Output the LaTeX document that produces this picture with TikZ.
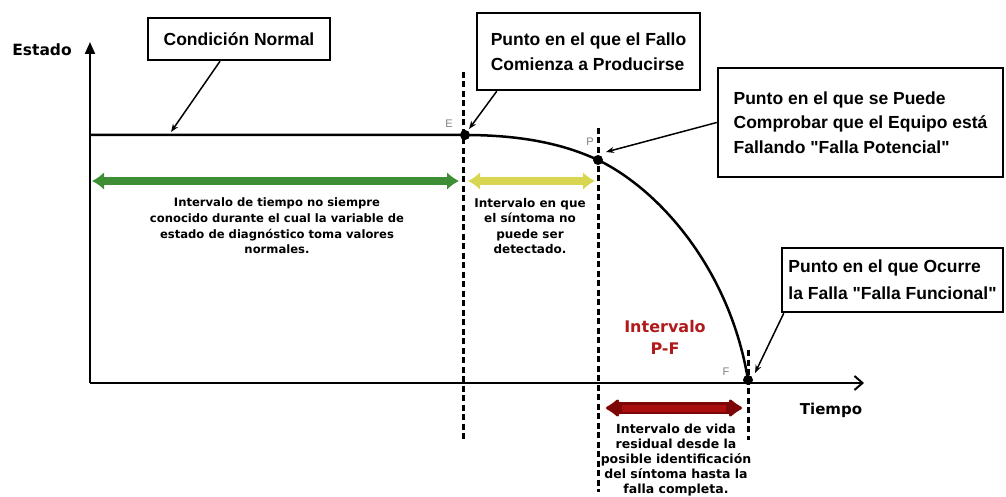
\documentclass[tikz,border=0pt]{standalone}
\usepackage{fontspec}
\setmainfont{Liberation Sans}
\newfontfamily\dejavu{DejaVu Sans}
\usetikzlibrary{arrows.meta}
\definecolor{grn}{HTML}{3E8E35}
\definecolor{ylw}{HTML}{D8D650}
\definecolor{dred}{HTML}{7E0606}
\definecolor{mred}{HTML}{A80E0E}
\definecolor{ired}{HTML}{B01A1A}
\begin{document}
\begin{tikzpicture}[x=1pt,y=-1pt,
  box/.style={draw,line width=2.5pt,fill=white,font=\fontsize{17.5}{25.5}\selectfont\bfseries,inner sep=0pt},
  conn/.style={line width=1.5pt,-{Stealth[length=8pt,width=6pt]}},
  vdash/.style={line width=3pt,dash pattern=on 6pt off 3.5pt},
  small/.style={font=\dejavu\bfseries\fontsize{12}{15.5}\selectfont,align=center},
  dot/.style={circle,fill=black,inner sep=0pt,minimum size=10pt},
  lab/.style={text=gray,font=\fontsize{11}{13}\selectfont},
  axlab/.style={font=\dejavu\bfseries\fontsize{15.5}{17}\selectfont}]
\useasboundingbox (0,0) rectangle (1006,497);
% axes
\coordinate (O) at (90,383);
\coordinate (Ytop) at (90,42);
\coordinate (Xend) at (864,383);
\draw[line width=2pt,-{Triangle[length=12pt,width=10pt]}] (O) -- (Ytop);
\draw[line width=2pt,-{Straight Barb[length=8pt,width=14pt]}] (O) -- (Xend);
\node[axlab] (estado) at (42,50) {Estado};
\node[axlab,font=\dejavu\bfseries\fontsize{15}{17}\selectfont] (tiempo) at (831,410) {Tiempo};
% key points
\coordinate (S) at (90,135);
\coordinate (E) at (465,135);
\coordinate (P) at (598,160);
\coordinate (F) at (748,380);
% dashed verticals
\coordinate (Et) at (463,72);  \coordinate (Eb) at (463,440);
\coordinate (Pt) at (598,128); \coordinate (Pb) at (598,492);
\coordinate (Ft) at (748,350); \coordinate (Fb) at (748,440);
\draw[vdash] (Et) -- (Eb);
\draw[vdash] (Pt) -- (Pb);
\draw[vdash] (Ft) -- (Fb);
% curve
\draw[line width=2.5pt] (S) -- (E) .. controls (530,135) and (570,147) .. (P)
   .. controls (660,190) and (730,270) .. (F);
\node[dot] (dE) at (E) {};
\node[dot] (dP) at (P) {};
\node[dot] (dF) at (F) {};
\node[lab] (lE) at (449,124) {E};
\node[lab] (lP) at (590,142) {P};
\node[lab] (lF) at (726,372) {F};
% boxes
\node[box,minimum width=182pt,minimum height=42pt] (b1) at (239,39) {Condición Normal};
\node[box,minimum width=223pt,minimum height=77pt,align=left] (b2) at (588.5,51.5) {Punto en el que el Fallo\\Comienza a Producirse};
\node[box,minimum width=285pt,minimum height=109pt,align=left,font=\fontsize{17.5}{24.5}\selectfont\bfseries] (b3) at (860.5,122.5) {Punto en el que se Puede\\Comprobar que el Equipo está\\Fallando \textquotedbl Falla Potencial\textquotedbl};
\node[box,minimum width=221pt,minimum height=64pt,align=left,font=\fontsize{17.5}{27}\selectfont\bfseries] (b4) at (892.5,280) {Punto en el que Ocurre\\la Falla \textquotedbl Falla Funcional\textquotedbl};
% connectors
\coordinate (c1) at (171,132);
\coordinate (c2) at (469,129);
\coordinate (c3) at (606,152);
\coordinate (c4) at (755,373);
\draw[conn] ([xshift=-19pt]b1.south) -- (c1);
\draw[conn] ([xshift=21pt]b2.south west) -- (c2);
\draw[conn] (b3.west) -- (c3);
\draw[conn] ([xshift=3pt]b4.south west) -- (c4);
% intervals
\coordinate (g1) at (92,181);  \coordinate (g2) at (459,181);
\coordinate (y1) at (468,181); \coordinate (y2) at (595,181);
\coordinate (r1) at (606,408); \coordinate (r2) at (742,408);
\draw[grn,line width=8pt,{Latex[length=12pt,width=18pt]}-{Latex[length=12pt,width=18pt]}] (g1) -- (g2);
\draw[ylw,line width=8pt,{Latex[length=12pt,width=18pt]}-{Latex[length=12pt,width=18pt]}] (y1) -- (y2);
\draw[dred,line width=12pt,{Latex[round,length=15pt,width=22pt]}-{Latex[round,length=15pt,width=22pt]}] (r1) -- (r2);
\draw[mred,line width=7pt] ([xshift=16pt]r1) -- ([xshift=-16pt]r2);
% texts
\node[small,font=\dejavu\bfseries\fontsize{11.6}{15.7}\selectfont] (tg) at (277,226) {Intervalo de tiempo no siempre\\conocido durante el cual la variable de\\estado de diagnóstico toma valores\\normales.};
\node[small] (ty) at (530,226) {Intervalo en que\\el síntoma no\\puede ser\\detectado.};
\node[small,font=\dejavu\bfseries\fontsize{12.5}{15}\selectfont] (tr) at (676,460) {Intervalo de vida\\residual desde la\\posible identificación\\del síntoma hasta la\\falla completa.};
\node[font=\dejavu\bfseries\fontsize{16}{22}\selectfont,text=ired,align=center] (pf) at (665,337) {Intervalo\\P-F};
\end{tikzpicture}
\end{document}
